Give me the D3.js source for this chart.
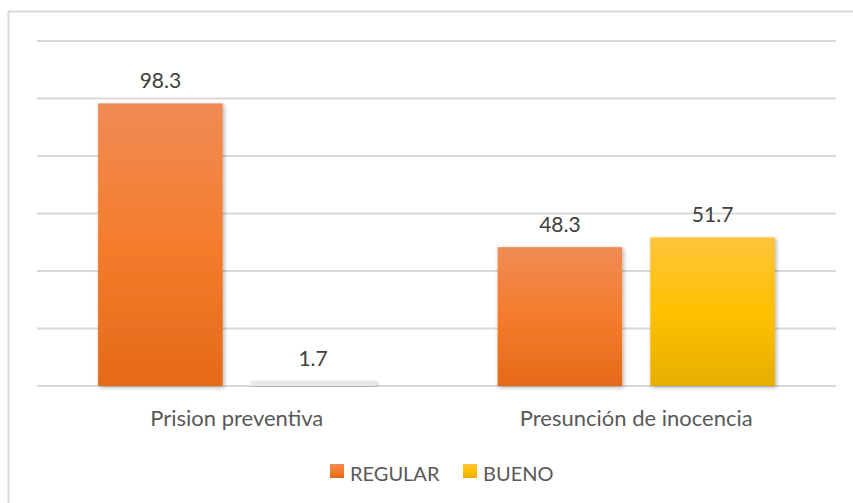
<!DOCTYPE html>
<html>
<head>
<meta charset="utf-8">
<script src="https://cdn.jsdelivr.net/npm/d3@7"></script>
<style>
  body { margin: 0; background: #fff; }
  text { font-family: Lato, "Open Sans", sans-serif; }
</style>
</head>
<body>
<div id="container"></div>
<script>
var categories = ['Prision preventiva', 'Presunción de inocencia'];
var seriesNames = ['REGULAR', 'BUENO'];
var regular = [98.3, 48.3];
var bueno = [1.7, 51.7];
var yTicks = [0, 20, 40, 60, 80, 100, 120];

var width = 853, height = 503;
var plot = {left: 37, right: 836, top: 41, bottom: 386};

var svg = d3.select('#container')
      .append('svg')
      .attr('width', width)
      .attr('height', height);

var defs = svg.append('defs');
var grads = [
  {id: 'gOrange', stops: ['#f08b55', '#f47c2c', '#e46a19']},
  {id: 'gYellow', stops: ['#ffc43c', '#ffc000', '#e5ae00']}
];
grads.forEach(function(g) {
  var lg = defs.append('linearGradient').attr('id', g.id)
    .attr('x1', 0).attr('y1', 0).attr('x2', 0).attr('y2', 1);
  lg.append('stop').attr('offset', '0%').attr('stop-color', g.stops[0]);
  lg.append('stop').attr('offset', '50%').attr('stop-color', g.stops[1]);
  lg.append('stop').attr('offset', '100%').attr('stop-color', g.stops[2]);
});
var shadow = defs.append('filter').attr('id', 'shadow')
  .attr('x', '-20%').attr('y', '-20%').attr('width', '140%').attr('height', '140%');
shadow.append('feDropShadow').attr('dx', 1.5).attr('dy', 1.5)
  .attr('stdDeviation', 2).attr('flood-color', '#000').attr('flood-opacity', 0.3);

// outer border
svg.append('rect')
  .attr('x', 8.5).attr('y', 11.5)
  .attr('width', 900).attr('height', 600)
  .attr('fill', 'none').attr('stroke', '#d9d9d9').attr('stroke-width', 2);

var y = d3.scaleLinear().domain([0, 120]).range([plot.bottom, plot.top]);
var x0 = d3.scaleBand().domain(categories).range([plot.left, plot.right]);
var x1 = d3.scaleBand().domain(seriesNames).range([0, x0.bandwidth()])
  .paddingInner(0.184).paddingOuter(0.4);

// gridlines
svg.append('g').selectAll('line')
  .data(yTicks)
  .enter()
  .append('line')
  .attr('x1', plot.left).attr('x2', plot.right)
  .attr('y1', function(d) { return y(d); })
  .attr('y2', function(d) { return y(d); })
  .style('stroke', '#d9d9d9')
  .style('stroke-width', 2);

var colors = {REGULAR: 'url(#gOrange)', BUENO: 'url(#gYellow)'};
var rows = [];
categories.forEach(function(c, i) {
  rows.push({cat: c, s: 'REGULAR', v: regular[i]});
  rows.push({cat: c, s: 'BUENO', v: bueno[i]});
});

svg.append('g').selectAll('rect')
  .data(rows)
  .enter()
  .append('rect')
  .attr('x', function(d) { return x0(d.cat) + x1(d.s); })
  .attr('y', function(d) { return y(d.v); })
  .attr('width', x1.bandwidth())
  .attr('height', function(d) { return y(0) - y(d.v); })
  .attr('fill', function(d) { return d.v < 5 ? '#e8e8e8' : colors[d.s]; })
  .attr('filter', 'url(#shadow)');

svg.append('g').selectAll('text')
  .data(rows)
  .enter()
  .append('text')
  .attr('x', function(d) { return x0(d.cat) + x1(d.s) + x1.bandwidth() / 2; })
  .attr('y', function(d) { return y(d.v) - 15; })
  .attr('text-anchor', 'middle')
  .style('font-size', '21px')
  .style('fill', '#404040')
  .text(function(d) { return d.v; });

// category labels
svg.append('g').selectAll('text')
  .data(categories)
  .enter()
  .append('text')
  .attr('x', function(d) { return x0(d) + x0.bandwidth() / 2; })
  .attr('y', 426)
  .attr('text-anchor', 'middle')
  .style('font-size', '22px')
  .style('fill', '#595959')
  .text(function(d) { return d; });

// legend
var legendX = [330, 463];
var legend = svg.append('g').selectAll('g')
  .data(seriesNames)
  .enter()
  .append('g')
  .attr('transform', function(d, i) { return 'translate(' + legendX[i] + ',464)'; });
legend.append('rect')
  .attr('width', 14).attr('height', 14)
  .attr('fill', function(d) { return colors[d]; });
legend.append('text')
  .attr('x', 20).attr('y', 17)
  .style('font-size', '20px')
  .style('fill', '#595959')
  .text(function(d) { return d; });
</script>
</body>
</html>
